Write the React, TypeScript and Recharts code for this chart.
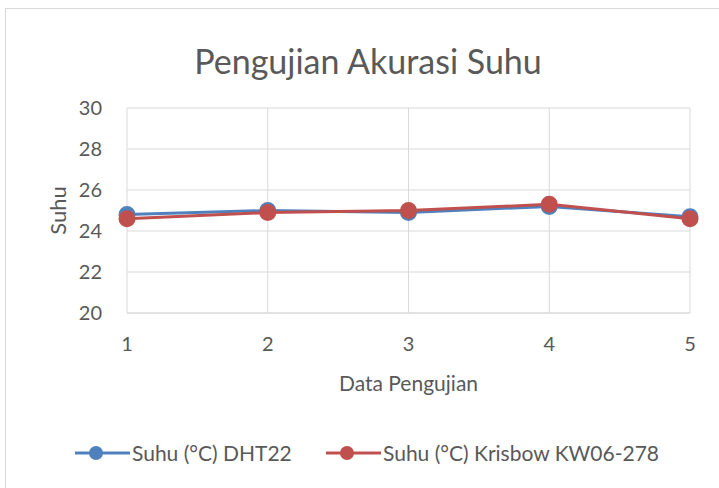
import { LineChart, Line, XAxis, YAxis, CartesianGrid, Label } from "recharts";

const categories = ["1", "2", "3", "4", "5"];
const dht22 = [24.8, 25.0, 24.9, 25.2, 24.7];
const krisbow = [24.6, 24.9, 25.0, 25.3, 24.6];
const yTicks = [20, 22, 24, 26, 28, 30];
const seriesNames = ["Suhu (°C) DHT22", "Suhu (°C) Krisbow KW06-278"];
const seriesColors = ["#4f81bd", "#c0504d"];

const data = categories.map((c, i) => ({ label: c, dht: dht22[i], kris: krisbow[i] }));

const font = "Lato, 'Open Sans', sans-serif";
const textColor = "#595959";

export default function App() {
  return (
    <div style={{ position: "absolute", left: 0, top: 0, width: 719, height: 488, overflow: "hidden", background: "#fff", fontFamily: font }}>
      <div style={{ position: "absolute", left: 5, top: 8, width: 730, height: 500, border: "1px solid #d9d9d9" }} />
      <div style={{ position: "absolute", left: 6, width: 724, top: 40, textAlign: "center", fontSize: 34, color: textColor }}>
        Pengujian Akurasi Suhu
      </div>
      <div style={{ position: "absolute", left: 0, top: 0 }}>
        <LineChart width={719} height={488} data={data} margin={{ top: 108, right: 29, left: 0, bottom: 0 }}>
          <CartesianGrid stroke="#d9d9d9" strokeWidth={1} />
          <XAxis
            dataKey="label"
            height={175}
            axisLine={{ stroke: "#d9d9d9" }}
            tickLine={false}
            tick={{ fontSize: 20, fill: textColor, fontFamily: font }}
            tickMargin={18}
          >
            <Label value="Data Pengujian" position="insideTop" offset={63} style={{ fontSize: 21, fill: textColor, fontFamily: font }} />
          </XAxis>
          <YAxis
            width={127}
            domain={[20, 30]}
            ticks={yTicks}
            axisLine={false}
            tickLine={false}
            tick={{ fontSize: 20, fill: textColor, fontFamily: font }}
            tickMargin={19}
          >
            <Label value="Suhu" angle={-90} position="insideLeft" offset={58} style={{ fontSize: 22, fill: textColor, fontFamily: font, textAnchor: "middle" }} />
          </YAxis>
          <Line dataKey="dht" name={seriesNames[0]} stroke={seriesColors[0]} strokeWidth={3} dot={{ r: 7, fill: seriesColors[0], stroke: seriesColors[0] }} isAnimationActive={false} />
          <Line dataKey="kris" name={seriesNames[1]} stroke={seriesColors[1]} strokeWidth={3} dot={{ r: 7, fill: seriesColors[1], stroke: seriesColors[1] }} isAnimationActive={false} />
        </LineChart>
      </div>
      {seriesNames.map((name, i) => (
        <div key={name} style={{ position: "absolute", top: 440, left: i === 0 ? 75 : 326, display: "flex", alignItems: "center", fontSize: 21, color: textColor }}>
          <svg width={55} height={20} style={{ marginRight: 2 }}>
            <line x1={0} y1={10} x2={55} y2={10} stroke={seriesColors[i]} strokeWidth={3} />
            <circle cx={21} cy={10} r={7} fill={seriesColors[i]} />
          </svg>
          <span>{name}</span>
        </div>
      ))}
    </div>
  );
}
